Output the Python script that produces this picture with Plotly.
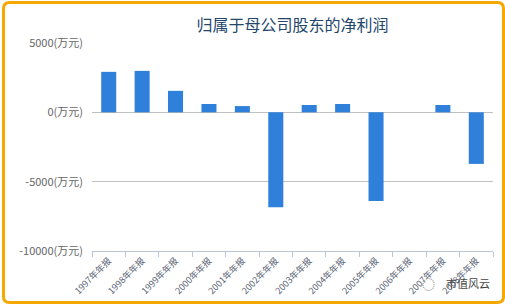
import plotly.graph_objects as go

categories = ["1997年年报", "1998年年报", "1999年年报", "2000年年报", "2001年年报", "2002年年报",
              "2003年年报", "2004年年报", "2005年年报", "2006年年报", "2007年年报", "2008年年报"]
profit = [2920, 2990, 1550, 600, 450, -6840, 530, 600, -6400, 0, 530, -3720]
ytickvals = [5000, 0, -5000, -10000]
yticktext = ["5000(万元)", "0(万元)", "-5000(万元)", "-10000(万元)"]

W, H = 505, 305
L, R, T, B = 92, 12, 43, 54
pw, ph = W - L - R, H - T - B

def px(x):
    return (x - L) / pw

def py(y):
    return 1 - (y - T) / ph

FONT = "Noto Sans CJK SC, Microsoft YaHei, sans-serif"

fig = go.Figure(go.Bar(
    x=categories, y=profit, marker=dict(color="#2F80DA", line=dict(width=0)),
    hoverinfo="x+y",
))

# rounded orange border
x0, x1, y0, y1, r = 3.5, 503.5, 2.5, 302.5, 6
path = (f"M {px(x0+r)} {py(y0)} L {px(x1-r)} {py(y0)} Q {px(x1)} {py(y0)} {px(x1)} {py(y0+r)} "
        f"L {px(x1)} {py(y1-r)} Q {px(x1)} {py(y1)} {px(x1-r)} {py(y1)} "
        f"L {px(x0+r)} {py(y1)} Q {px(x0)} {py(y1)} {px(x0)} {py(y1-r)} "
        f"L {px(x0)} {py(y0+r)} Q {px(x0)} {py(y0)} {px(x0+r)} {py(y0)} Z")

fig.update_layout(
    width=W, height=H,
    margin=dict(l=L, r=R, t=T, b=B, autoexpand=False),
    paper_bgcolor="white", plot_bgcolor="white",
    bargap=0.55,
    showlegend=False,
    title=dict(text="归属于母公司股东的净利润", x=0.5, xref="paper", xanchor="center",
               y=1 - 25 / H, yanchor="middle",
               font=dict(family=FONT, size=16, color="#24466B")),
    font=dict(family=FONT),
    xaxis=dict(
        type="category", tickangle=-45, tickson="boundaries", ticks="outside", ticklen=5,
        tickcolor="#B8C6D6", showline=True, linecolor="#B8C6D6", linewidth=1,
        showgrid=False, tickfont=dict(size=9, color="#5A6475"), automargin=False,
        range=[-0.5, len(categories) - 0.5], fixedrange=True,
    ),
    yaxis=dict(
        range=[-10000, 5000], tickvals=ytickvals, ticktext=yticktext,
        showgrid=True, gridcolor="#C0C0C0", gridwidth=1,
        zeroline=True, zerolinecolor="#C0C0C0", zerolinewidth=1,
        showline=False, ticks="", ticklabelstandoff=8, automargin=False,
        tickfont=dict(size=11, color="#666666"), fixedrange=True,
    ),
    shapes=[dict(type="path", xref="paper", yref="paper", path=path,
                 line=dict(color="#F5A800", width=3), layer="above")],
    annotations=[
        dict(text="市值风云", xref="paper", yref="paper", x=px(492), y=py(283),
             xanchor="right", yanchor="middle", showarrow=False,
             font=dict(family=FONT, size=11, color="#444444")),
        dict(text="◌", xref="paper", yref="paper", x=px(428), y=py(283),
             xanchor="center", yanchor="middle", showarrow=False,
             font=dict(family=FONT, size=13, color="#888888")),
    ],
)

fig.write_html("out.html")
